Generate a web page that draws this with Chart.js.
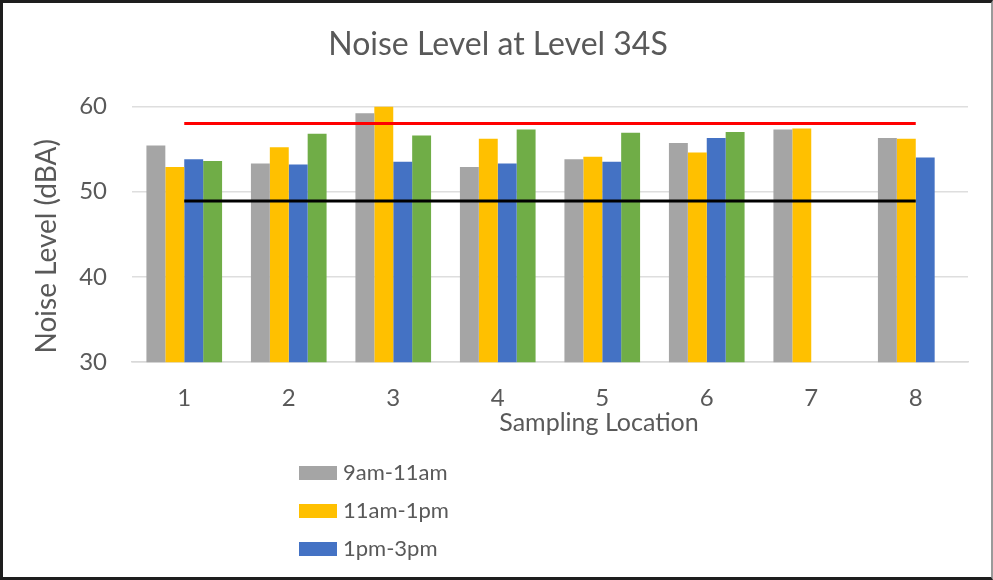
<!DOCTYPE html>
<html>
<head>
<meta charset="utf-8">
<title>Noise Level at Level 34S</title>
<script src="https://cdn.jsdelivr.net/npm/chart.js@4/dist/chart.umd.min.js"></script>
<style>
  html, body { margin: 0; padding: 0; background: #ffffff; }
  #wrap { position: relative; width: 993px; height: 580px; }
  #wrap canvas { display: block; }
  #frame {
    position: absolute; left: 0; top: 0; width: 993px; height: 580px;
    box-sizing: border-box; pointer-events: none;
    border-left: 3px solid #1e1e1e; border-top: 3px solid #1e1e1e;
    border-bottom: 3px solid #1e1e1e; border-right: 2px solid #9a9a9a;
  }
</style>
</head>
<body>
<div id="wrap">
  <canvas id="chart" width="993" height="580"></canvas>
  <div id="frame"></div>
</div>
<script>
// Sampling locations along the x axis
const locations = ['1', '2', '3', '4', '5', '6', '7', '8'];

// Measured noise levels (dBA) per time window; null = not measured
const slot9to11  = [55.4, 53.3, 59.2, 52.9, 53.8, 55.7, 57.3, 56.3];
const slot11to1  = [52.9, 55.2, 60.0, 56.2, 54.1, 54.6, 57.4, 56.2];
const slot1to3   = [53.8, 53.2, 53.5, 53.3, 53.5, 56.3, null, 54.0];
const slot3to5   = [53.6, 56.8, 56.6, 57.3, 56.9, 57.0, null, null];

// Reference levels drawn across all locations
const upperLimit = [58, 58, 58, 58, 58, 58, 58, 58];
const baseline   = [48.9, 48.9, 48.9, 48.9, 48.9, 48.9, 48.9, 48.9];

// Y axis tick values
const yTicks = [30, 40, 50, 60];

const FONT = 'Lato, "Open Sans", "Noto Sans", sans-serif';
const TEXT = '#595959';

// Vertical legend listing the bar series below the chart
const stackedLegend = {
  id: 'stackedLegend',
  afterDraw(chart, args, opts) {
    const ctx = chart.ctx;
    const items = chart.data.datasets.filter(d => d.type !== 'line');
    ctx.save();
    ctx.font = opts.fontSize + 'px ' + FONT;
    ctx.textBaseline = 'middle';
    ctx.textAlign = 'left';
    items.forEach((d, i) => {
      const y = opts.y + i * opts.rowGap;
      if (y + opts.boxH / 2 > chart.height) return;
      ctx.fillStyle = d.backgroundColor;
      ctx.fillRect(opts.x, y - opts.boxH / 2, opts.boxW, opts.boxH);
      ctx.fillStyle = TEXT;
      ctx.fillText(d.label, opts.x + opts.boxW + 6, y);
    });
    ctx.restore();
  }
};

// Axis captions, placed relative to the plot area with a small offset
const axisCaptions = {
  id: 'axisCaptions',
  afterDraw(chart, args, opts) {
    const { ctx, chartArea: a } = chart;
    ctx.save();
    ctx.fillStyle = TEXT;
    ctx.textAlign = 'center';
    ctx.textBaseline = 'middle';
    ctx.font = opts.xSize + 'px ' + FONT;
    ctx.fillText(opts.xText, (a.left + a.right) / 2 + opts.xShift, a.bottom + opts.xDrop);
    ctx.translate(opts.yX, (a.top + a.bottom) / 2 + opts.yShift);
    ctx.rotate(-Math.PI / 2);
    ctx.font = opts.ySize + 'px ' + FONT;
    ctx.fillText(opts.yText, 0, 0);
    ctx.restore();
  }
};

const barStyle = (label, data, color) => ({
  type: 'bar', label, data, backgroundColor: color, borderWidth: 0, order: 1,
  categoryPercentage: 0.724, barPercentage: 1.0
});
const lineStyle = (label, data, color) => ({
  type: 'line', label, data, borderColor: color, backgroundColor: color,
  borderWidth: 3, pointRadius: 0, tension: 0, fill: false, order: 0
});

new Chart(document.getElementById('chart'), {
  data: {
    labels: locations,
    datasets: [
      barStyle('9am-11am', slot9to11, '#A5A5A5'),
      barStyle('11am-1pm', slot11to1, '#FFC000'),
      barStyle('1pm-3pm', slot1to3, '#4472C4'),
      barStyle('3pm-5pm', slot3to5, '#70AD47'),
      lineStyle('Upper limit', upperLimit, '#FF0000'),
      lineStyle('Baseline', baseline, '#000000')
    ]
  },
  options: {
    responsive: false,
    animation: false,
    layout: { padding: { left: 28, right: 25, top: 0, bottom: 145 } },
    plugins: {
      legend: { display: false },
      tooltip: { enabled: false },
      title: {
        display: true,
        text: 'Noise Level at Level 34S',
        color: TEXT,
        font: { family: FONT, size: 32, weight: 'normal' },
        padding: { top: 25, bottom: 43 }
      },
      stackedLegend: { x: 299, y: 473, rowGap: 38, boxW: 38, boxH: 14, fontSize: 22 },
      axisCaptions: {
        xText: 'Sampling Location', xSize: 25, xShift: 49, xDrop: 61,
        yText: 'Noise Level (dBA)', ySize: 28, yX: 47, yShift: 12
      }
    },
    scales: {
      x: {
        grid: { display: false, drawTicks: false },
        border: { display: true, color: '#D9D9D9', width: 1.5 },
        ticks: { color: TEXT, font: { family: FONT, size: 24 }, padding: 22 }
      },
      y: {
        min: 30, max: 60,
        afterBuildTicks(scale) { scale.ticks = yTicks.map(v => ({ value: v })); },
        // leave room on the left for the rotated axis caption
        afterFit(scale) { scale.width = 104; },
        grid: { color: '#DEDEDE', lineWidth: 1.5, drawTicks: false },
        border: { display: false },
        ticks: { color: TEXT, font: { family: FONT, size: 24 }, padding: 25 }
      }
    }
  },
  plugins: [stackedLegend, axisCaptions]
});
</script>
</body>
</html>
